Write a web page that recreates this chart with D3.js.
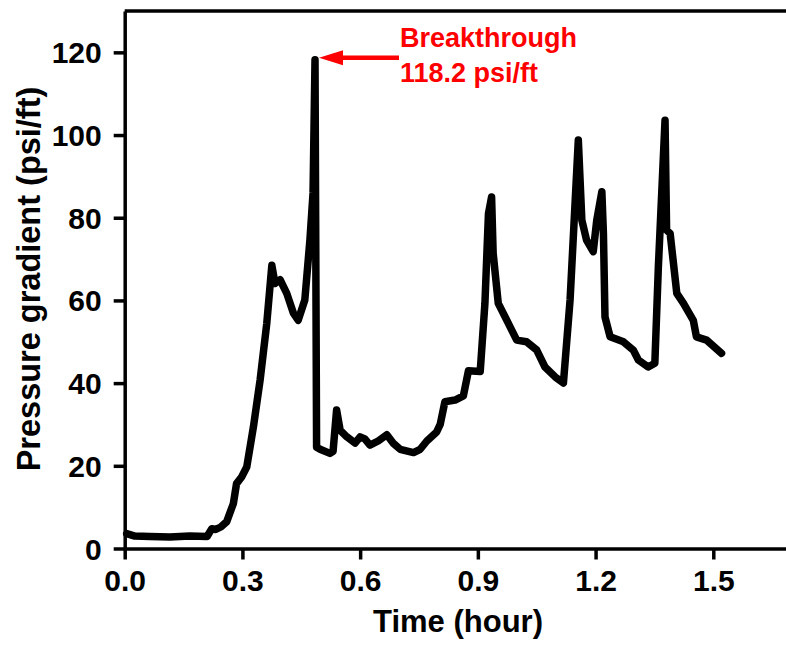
<!DOCTYPE html>
<html>
<head>
<meta charset="utf-8">
<script src="https://cdn.jsdelivr.net/npm/d3@7"></script>
<style>
  html, body { margin: 0; padding: 0; background: #fff; }
  svg { display: block; font-family: "Liberation Sans", Arial, sans-serif; font-weight: bold; }
</style>
</head>
<body>
<div id="chart"></div>
<script>
//! ===== 0. Data ==========================
const timeHours = [0.005, 0.026, 0.064, 0.115, 0.166, 0.21, 0.222, 0.232, 0.245, 0.26,
  0.277, 0.285, 0.298, 0.311, 0.328, 0.345, 0.362, 0.375, 0.383, 0.396,
  0.413, 0.43, 0.442, 0.459, 0.472, 0.48, 0.485, 0.489, 0.498, 0.523,
  0.531, 0.54, 0.549, 0.566, 0.587, 0.6, 0.612, 0.625, 0.646, 0.668,
  0.684, 0.702, 0.736, 0.753, 0.77, 0.795, 0.804, 0.816, 0.842, 0.863,
  0.876, 0.906, 0.918, 0.927, 0.935, 0.939, 0.952, 0.978, 0.999, 1.024,
  1.05, 1.071, 1.097, 1.118, 1.135, 1.156, 1.165, 1.177, 1.194, 1.203,
  1.216, 1.22, 1.224, 1.237, 1.271, 1.296, 1.309, 1.334, 1.351, 1.36,
  1.377, 1.381, 1.39, 1.407, 1.424, 1.449, 1.457, 1.483, 1.521];

const pressureGradient = [3.6, 3.0, 2.9, 2.8, 3.0, 2.9, 4.8, 4.6, 5.2, 6.5,
  10.9, 15.7, 17.3, 19.7, 29.4, 40.7, 54.4, 68.5, 64.1, 65.0,
  61.7, 56.9, 55.2, 60.1, 74.6, 86, 118.2, 24.5, 24.0, 23.0,
  23.5, 33.5, 28.6, 27.0, 25.5, 27.0, 26.5, 25.0, 26.0, 27.5,
  25.5, 24.0, 23.2, 24.0, 26.0, 28.2, 30, 35.5, 35.9, 36.9,
  43.0, 42.8, 59.3, 81, 85.0, 71.4, 59.3, 54.4, 50.4, 50.0,
  48.0, 43.9, 41.5, 40.0, 60.1, 98.8, 79.4, 74.6, 71.8, 79.4,
  86.3, 76.2, 56.0, 51.2, 50.0, 48.0, 45.6, 43.9, 44.8, 68.1,
  103.6, 77.0, 76.2, 61.7, 59.3, 55.2, 51.2, 50.4, 47.2];

const xTicks = [0.0, 0.3, 0.6, 0.9, 1.2, 1.5];
const yTicks = [0, 20, 40, 60, 80, 100, 120];

const breakthroughIndex = 26;
const annotationLines = ["Breakthrough", "118.2 psi/ft"];

//! ===== I. Scales and frame =====
const W = 786, H = 646;
const margin = {top: 11, left: 124.7, bottom: 97.5};

const svg = d3.select("#chart")
    .append("svg")
    .attr("width", W)
    .attr("height", H);

// x axis runs past the right edge of the picture (cropped)
const x = d3.scaleLinear()
    .domain([0, 1.8])
    .range([margin.left, margin.left + 1.8 * 392.4]);

const y = d3.scaleLinear()
    .domain([0, 130])
    .range([H - margin.bottom, margin.top]);

// X axis
const xAxis = svg.append("g")
    .attr("transform", `translate(0,${y(0)})`)
    .call(d3.axisBottom(x).tickValues(xTicks).tickFormat(d3.format(".1f"))
        .tickSize(11).tickPadding(10).tickSizeOuter(0));

// Y axis
const yAxis = svg.append("g")
    .attr("transform", `translate(${x(0)},0)`)
    .call(d3.axisLeft(y).tickValues(yTicks)
        .tickSize(11).tickPadding(12).tickSizeOuter(0));

[xAxis, yAxis].forEach(g => {
    g.select(".domain").attr("stroke", "#000").attr("stroke-width", 3.5);
    g.selectAll(".tick line").attr("stroke", "#000").attr("stroke-width", 3.5);
    g.selectAll(".tick text")
        .attr("fill", "#000")
        .style("font-size", "30px")
        .style("font-weight", "bold");
});
yAxis.selectAll(".tick text").attr("dy", "0.35em");

// top frame line
svg.append("line")
    .attr("x1", x(0)).attr("x2", x(1.8))
    .attr("y1", y(130)).attr("y2", y(130))
    .attr("stroke", "#000")
    .attr("stroke-width", 3.5);

// Axis titles
svg.append("text")
    .attr("x", 458)
    .attr("y", 632)
    .attr("text-anchor", "middle")
    .style("font-size", "31px")
    .text("Time (hour)");

svg.append("text")
    .attr("transform", "translate(40,279) rotate(-90)")
    .attr("text-anchor", "middle")
    .style("font-size", "32.5px")
    .text("Pressure gradient (psi/ft)");

//! ===== II. Curve =====
const points = timeHours.map((t, i) => ({t: t, v: pressureGradient[i]}));

const line = d3.line()
    .x(d => x(d.t))
    .y(d => y(d.v));

svg.append("path")
    .datum(points)
    .attr("fill", "none")
    .attr("stroke", "#000")
    .attr("stroke-width", 7.5)
    .attr("stroke-linejoin", "round")
    .attr("stroke-linecap", "round")
    .attr("d", line);

//! ===== III. Breakthrough annotation =====
const peak = points[breakthroughIndex];
const tipX = x(peak.t) + 4;
const tipY = y(peak.v) - 2;
const red = "#ff0000";

svg.append("line")
    .attr("x1", tipX + 20).attr("x2", tipX + 80)
    .attr("y1", tipY).attr("y2", tipY)
    .attr("stroke", red)
    .attr("stroke-width", 4.5);

svg.append("path")
    .attr("d", `M${tipX},${tipY} L${tipX + 24},${tipY - 7.5} L${tipX + 24},${tipY + 7.5} Z`)
    .attr("fill", red);

svg.append("text")
    .attr("x", 400)
    .attr("y", 47)
    .attr("fill", red)
    .style("font-size", "27px")
  .selectAll("tspan")
    .data(annotationLines)
    .enter()
    .append("tspan")
    .attr("x", 400)
    .attr("dy", (d, i) => i === 0 ? 0 : 35)
    .text(d => d);
</script>
</body>
</html>
